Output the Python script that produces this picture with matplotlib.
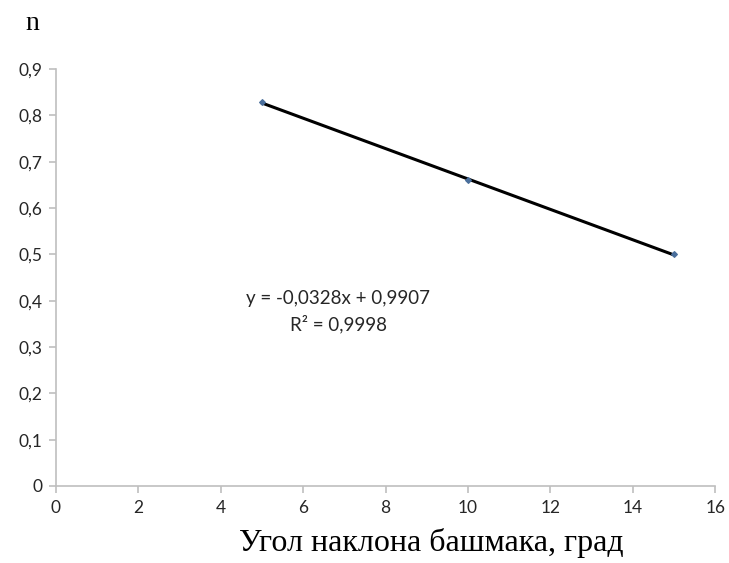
import numpy as np
import matplotlib.pyplot as plt
from matplotlib.ticker import FuncFormatter

# угол наклона башмака, град и n
angle = [5, 10, 15]
n_values = [0.828, 0.660, 0.500]
x_ticks = [0, 2, 4, 6, 8, 10, 12, 14, 16]
y_ticks = [0, 0.1, 0.2, 0.3, 0.4, 0.5, 0.6, 0.7, 0.8, 0.9]

# линейный тренд как в Excel
k, b = np.polyfit(angle, n_values, 1)
pred = np.polyval([k, b], angle)
ss_res = np.sum((np.array(n_values) - pred) ** 2)
ss_tot = np.sum((np.array(n_values) - np.mean(n_values)) ** 2)
r2 = 1 - ss_res / ss_tot

fig = plt.figure(figsize=(7.29, 5.63), dpi=100)
ax = fig.add_axes([0.0768, 0.1368, 0.9042, 0.7406])

ax.plot(angle, pred, color='black', linewidth=2.2, zorder=2)
ax.scatter(angle, n_values, marker='D', s=8, color='#4a6f9c', zorder=3)

ax.set_xlim(0, 16)
ax.set_ylim(0, 0.9)
ax.set_xticks(x_ticks)
ax.set_yticks(y_ticks)

def comma_fmt(v, pos):
    if abs(v) < 1e-9:
        return '0'
    if float(v).is_integer():
        return str(int(v))
    return f'{v:.1f}'.replace('.', ',')

ax.xaxis.set_major_formatter(FuncFormatter(comma_fmt))
ax.yaxis.set_major_formatter(FuncFormatter(comma_fmt))

for side in ['top', 'right']:
    ax.spines[side].set_visible(False)
for side in ['left', 'bottom']:
    ax.spines[side].set_color('#bfbfbf')
    ax.spines[side].set_linewidth(1.2)

ax.tick_params(axis='both', direction='out', length=5, width=1.2, color='#bfbfbf',
               labelsize=12.5, labelcolor='#262626', pad=5)
for lbl in ax.get_xticklabels() + ax.get_yticklabels():
    lbl.set_family(['Lato', 'DejaVu Sans'])

eq = f'y = {k:.4f}x + {b:.4f}'.replace('.', ',')
r2_txt = f'R² = {r2:.4f}'.replace('.', ',')
ax.text(6.85, 0.405, eq, ha='center', va='center', fontsize=13.5,
        family=['Lato', 'DejaVu Sans'], color='#262626')
ax.text(6.85, 0.35, r2_txt, ha='center', va='center', fontsize=13.5,
        family=['Lato', 'DejaVu Sans'], color='#262626')

fig.text(32 / 729, 1 - 24 / 563, 'n', ha='center', va='center', fontsize=20,
         family='Liberation Serif')
fig.text(431 / 729, 1 - 543 / 563, 'Угол наклона башмака, град', ha='center', va='center',
         fontsize=23, family='Liberation Serif')

fig.savefig('out.png', dpi=100)
